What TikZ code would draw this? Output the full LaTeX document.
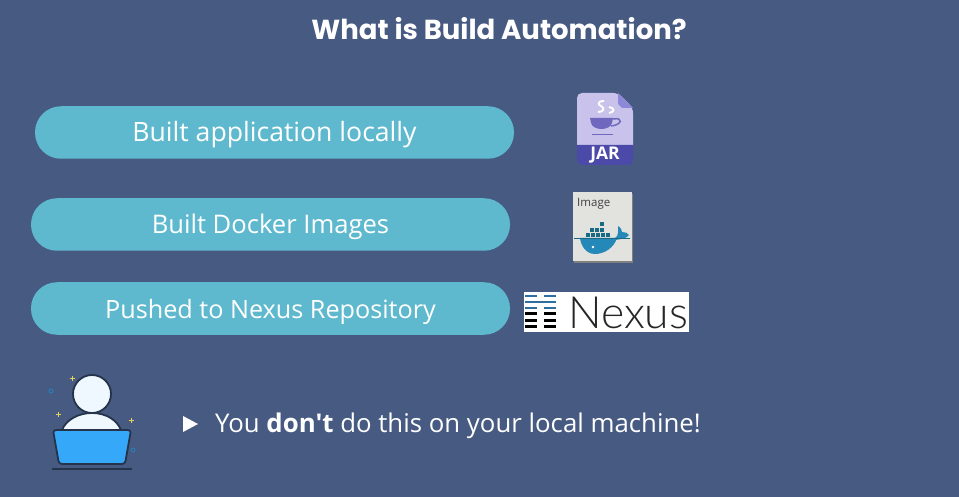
\documentclass[tikz,border=0pt]{standalone}
\usepackage{fontspec}
\setmainfont{Open Sans}[Ligatures=TeXOff]
\newfontfamily\titlefont{Poppins}
\newfontfamily\nexusfont{Lato Light}
\definecolor{slidebg}{HTML}{475A82}
\definecolor{pillblue}{HTML}{5FB9CE}
\definecolor{jarlight}{HTML}{C9C3EC}
\definecolor{jarband}{HTML}{4C4AA8}
\definecolor{jarfold}{HTML}{8E88D8}
\definecolor{jarcup}{HTML}{6F68BE}
\definecolor{cardgrey}{HTML}{E2E2DE}
\definecolor{whaleblue}{HTML}{2488B8}
\definecolor{crateblue}{HTML}{1A6A86}
\definecolor{nexusblue}{HTML}{2F6F9F}
\definecolor{userink}{HTML}{25344A}
\definecolor{userface}{HTML}{EFF8FE}
\definecolor{laptopblue}{HTML}{35A8FA}
\definecolor{sparkyellow}{HTML}{E6D25A}
\tikzset{
    pill/.style={fill=pillblue,rounded corners=26pt,minimum width=479pt,minimum height=52.5pt,
        text=white,text height=19pt,text depth=0pt,inner sep=0pt},
    sparkle/.style={color=sparkyellow,line width=0.9pt},
    bubble/.style={color=laptopblue!75!black,line width=0.9pt},
}
\begin{document}
\begin{tikzpicture}[x=1pt,y=-1pt]
    \fill[color=slidebg] (0,0) rectangle (959,497);
    \useasboundingbox (0,0) rectangle (959,497);
    \node[text=white,font=\titlefont\bfseries\fontsize{27.5}{32}\selectfont] (title) at (499,29) {What is Build Automation?};
    \node[pill,font=\fontsize{26.6}{30}\selectfont] (local) at (274.5,132.5) {Built application locally};
    \node[pill,font=\fontsize{25.6}{30}\selectfont] (docker) at (270.5,224.5) {Built Docker Images};
    \node[pill,font=\fontsize{25.2}{30}\selectfont] (nexus) at (270.5,308.5) {Pushed to Nexus Repository};
    % jar file
    \begin{scope}
        \fill[color=jarlight,rounded corners=5pt] (577,150) -- (577,93) -- (618,93) -- (633,108) -- (633,150) -- cycle;
        \fill[color=jarfold] (618,93) -- (633,108) -- (622,108) -- (618,104) -- cycle;
        \fill[color=jarband] (577,145) [rounded corners=5pt] -- (577,165) -- (633,165) [sharp corners] -- (633,145) -- cycle;
        \fill[color=jarcup] (590,118) -- (613,118) -- (612,123) .. controls (610,131) and (593,131) .. (591,123) -- cycle;
        \draw[color=jarcup,line width=1.5pt] (613,119) .. controls (624,117) and (622,125) .. (611,126);
        \draw[color=jarcup,line width=1.3pt] (592,134.5) -- (613,134.5);
        \draw[color=white,line width=1.9pt] (604,101) .. controls (597,101) and (598,105) .. (601,106) .. controls (605,108) and (604,112) .. (598,112);
        \draw[color=white,line width=1.9pt] (609,107) .. controls (615,108) and (615,112) .. (609,113);
        \node[text=white,font=\bfseries\fontsize{17.5}{18}\selectfont,inner sep=0pt] (jarlabel) at (605,155) {JAR};
    \end{scope}
    % docker image card
    \begin{scope}
        \fill[color=gray] (574,194) rectangle (633,263);
        \fill[color=cardgrey] (573,192) rectangle (632,261);
        \node[anchor=west,text=black!75,font=\fontsize{11.5}{12}\selectfont,inner sep=0pt] (imagelabel) at (577,203.5) {Image};
        \foreach \x/\y in {599/221,589/227,594/227,599/227,585/232,590/232,595/232,600/232,605/232} {
            \fill[color=crateblue,draw=cardgrey,line width=0.2pt] (\x,\y) rectangle +(5,5.5);
        }
        \fill[color=whaleblue] (580,238) -- (617,238) .. controls (614,248) and (604,254) .. (595,254) .. controls (586,254) and (581,246) .. (580,238) -- cycle;
        \fill[color=whaleblue] (615,238) .. controls (619,236) and (618,230) .. (618,226) .. controls (621,228) and (622,230) .. (622,232) .. controls (625,232) and (628,233) .. (629,235) .. controls (626,239) and (621,239) .. (615,240) -- cycle;
        \draw[color=crateblue,line width=1pt] (574,238.5) -- (630,238.5);
        \fill[color=white] (593,247) circle (1.4);
    \end{scope}
    % nexus logo
    \begin{scope}
        \fill[color=white] (524,292) rectangle (689,332);
        \foreach \y in {296,308} {
            \fill[color=nexusblue] (525,\y-1.3) rectangle (537,\y+1.3);
            \fill[color=nexusblue] (544,\y-1.3) rectangle (556,\y+1.3);
        }
        \fill[color=nexusblue] (525,300.7) rectangle (556,303.3);
        \foreach \y in {313.5,320,326} {
            \fill[color=black] (525,\y-1.5) rectangle (537,\y+1.5);
            \fill[color=black] (544,\y-1.5) rectangle (556,\y+1.5);
        }
        \node[anchor=base west,text=black!85,font=\nexusfont\fontsize{44.5}{44}\selectfont,inner sep=0pt] (nexuslabel) at (568,328) {Nexus};
    \end{scope}
    % user at laptop
    \begin{scope}
        \fill[color=userface,draw=userink,line width=1.8pt] (62,430) .. controls (66,420) and (78,413) .. (92,413) .. controls (106,413) and (117,420) .. (121,430) -- cycle;
        \fill[color=userface,draw=userink,line width=1.8pt] (92,394) circle (19);
        \fill[color=laptopblue,draw=userink,line width=1.8pt,rounded corners=3pt] (53,430) -- (131,430) -- (125,464) -- (59,464) -- cycle;
        \draw[color=userink,line width=1.6pt] (52,469) -- (132,469);
        \foreach \x/\y in {72/378,58/414,131/420} {
            \draw[sparkle] (\x-2.5,\y) -- (\x+2.5,\y) (\x,\y-2.5) -- (\x,\y+2.5);
        }
        \foreach \x/\y in {51/391,133/450} {
            \draw[bubble] (\x,\y) circle (2);
        }
    \end{scope}
    \coordinate (tip) at (198,424);
    \fill[color=white] (183,416) -- (tip) -- (183,432) -- cycle;
    \node[anchor=base west,text=white,font=\fontsize{25.8}{30}\selectfont,inner sep=0pt] (note) at (215,432.5) {You \textbf{don't} do this on your local machine!};
\end{tikzpicture}
\end{document}
